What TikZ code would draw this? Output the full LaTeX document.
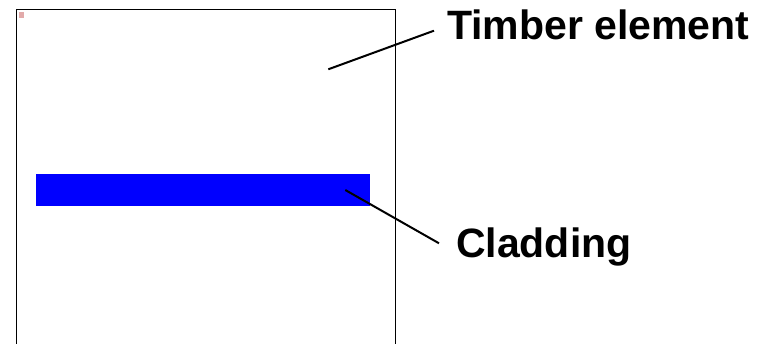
\documentclass[tikz,border=0pt]{standalone}
\usepackage{fontspec}
\setmainfont{Liberation Sans}
\definecolor{cladblue}{RGB}{0,0,255}
\definecolor{iconpink}{RGB}{226,170,170}
\begin{document}
\begin{tikzpicture}[x=1pt,y=-1pt,
  frame/.style={draw=black,line width=1pt},
  cladbar/.style={fill=cladblue,draw=none},
  leader/.style={draw=black,line width=2pt},
  lbl/.style={font=\fontsize{41}{41}\selectfont\bfseries,inner sep=0pt,anchor=base west}]
\useasboundingbox (0,0) rectangle (764,344);
\clip (0,0) rectangle (764,344);
% timber element box (bottom edge runs off the picture)
\draw[frame] (16.5,9.5) rectangle (395.5,360);
\node[fill=iconpink,minimum width=5.5pt,minimum height=6pt,inner sep=0pt,anchor=north west] (icon) at (18.3,11.8) {};
% cladding bar
\fill[cladbar] (36,174) rectangle (370,205.8);
% labels
\node[lbl] (timber) at (446.8,39.3) {Timber element};
\node[lbl] (cladding) at (455.9,257.7) {Cladding};
% leaders
\coordinate (t1) at (328.3,69.3);
\coordinate (t2) at (434,30.7);
\coordinate (c1) at (345.3,190);
\coordinate (c2) at (439,243.3);
\draw[leader] (t1) -- (t2);
\draw[leader] (c1) -- (c2);
\end{tikzpicture}
\end{document}
